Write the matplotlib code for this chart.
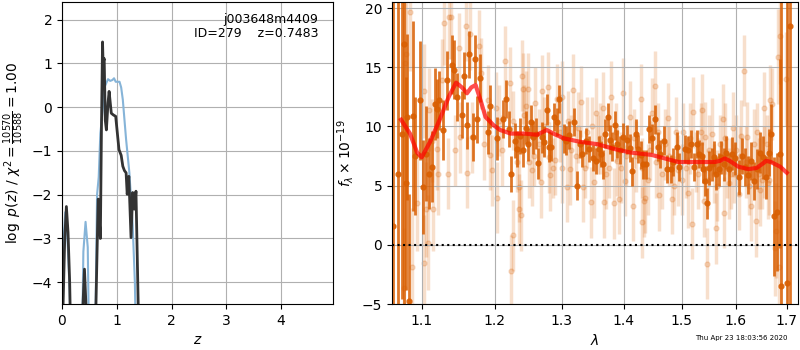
import matplotlib
matplotlib.use('Agg')
import matplotlib.pyplot as plt
import matplotlib.ticker as mticker
import numpy as np

# p(z) panel
z_blue = [0.0, 0.03, 0.06, 0.09, 0.11, 0.14, 0.17, 0.36, 0.39, 0.43, 0.47, 0.50,
          0.60, 0.62, 0.64, 0.67, 0.70, 0.74, 0.78, 0.84, 0.88, 0.92, 0.95, 0.98,
          1.05, 1.08, 1.11, 1.17, 1.23, 1.29, 1.33, 1.36]
lnp_blue = [-4.4, -3.0, -2.4, -2.8, -3.3, -4.2, -6, -6, -3.3, -2.62, -3.2, -6,
            -6, -4.0, -2.0, -1.6, -0.6, -0.1, 0.47, 0.64, 0.60, 0.62, 0.66, 0.58,
            0.58, 0.45, 0.17, -0.74, -1.5, -2.7, -4.0, -6]

z_black = [0.0, 0.02, 0.05, 0.08, 0.11, 0.14, 0.17, 0.35, 0.38, 0.41, 0.44, 0.47,
           0.60, 0.62, 0.66, 0.70, 0.72, 0.74, 0.75, 0.77, 0.79, 0.81, 0.84, 0.86,
           0.90, 0.94, 0.98, 1.04, 1.08, 1.11, 1.14, 1.17, 1.19, 1.22, 1.26, 1.29,
           1.32, 1.35, 1.39, 1.42]
lnp_black = [-6, -4.5, -3.0, -2.27, -2.86, -4.0, -6, -6, -4.6, -3.7, -4.6, -6,
             -6, -4.5, -2.1, -3.0, -0.5, 1.49, 1.0, 1.11, -0.3, -0.52, 0.1, 0.36,
             -0.14, -0.18, -0.21, -0.97, -1.1, -1.35, -1.45, -1.5, -1.99, -1.58,
             -2.98, -1.95, -2.33, -1.92, -4.45, -6]

# spectrum panel, darker points
wave_a = [1.0634, 1.0697, 1.0740, 1.0770, 1.0796, 1.0813, 1.0838, 1.0882, 1.0912,
          1.0978, 1.1021, 1.1056, 1.1092, 1.1132, 1.1176, 1.1198, 1.1233, 1.1279,
          1.1341, 1.1400, 1.1432, 1.1469, 1.1538, 1.1570, 1.1615, 1.1643, 1.1690,
          1.1722, 1.1754, 1.1792, 1.1910, 1.1934, 1.2038, 1.212, 1.217, 1.221,
          1.224, 1.229, 1.233, 1.237, 1.241, 1.245, 1.249, 1.253, 1.256, 1.260,
          1.264, 1.269, 1.273, 1.277, 1.281, 1.284, 1.288, 1.292, 1.295, 1.303,
          1.307, 1.312, 1.319, 1.324, 1.328, 1.332, 1.338, 1.343, 1.349, 1.354,
          1.359, 1.363, 1.365, 1.369, 1.373, 1.377, 1.381, 1.385, 1.389, 1.394,
          1.398, 1.405, 1.410, 1.414, 1.420, 1.424, 1.428, 1.433, 1.438, 1.442,
          1.447, 1.453, 1.458, 1.462, 1.468, 1.474, 1.480, 1.485, 1.491, 1.495,
          1.505, 1.511, 1.517, 1.522, 1.527, 1.532, 1.536, 1.538, 1.542, 1.546,
          1.550, 1.555, 1.559, 1.563, 1.568, 1.572, 1.577, 1.582, 1.587, 1.592,
          1.598, 1.606, 1.611, 1.617, 1.624, 1.630, 1.635, 1.641, 1.647, 1.652,
          1.659, 1.665, 1.668, 1.674, 1.680, 1.686, 1.689, 1.701, 1.706]
flux_a = [1.6, 6.0, 9.4, 17.0, 5.2, 10.8, -4.7, 10.9, 7.5,
          12.2, 4.9, 7.7, 6.0, 6.6, 11.9, 11.5, 12.2, 9.7,
          13.9, 15.2, 14.8, 12.5, 11.0, 14.3, 10.1, 16.1, 9.1,
          15.7, 10.6, 14.1, 9.5, 11.7, 9.0, 10.6, 12.3, 9.8,
          6.0, 8.8, 8.1, 9.2, 8.0, 9.9, 8.5, 10.4, 9.1, 9.4,
          6.9, 9.1, 8.7, 11.4, 8.3, 8.3, 10.8, 10.4, 12.3, 9.0,
          8.8, 9.3, 10.4, 5.0, 8.5, 7.7, 8.8, 8.1, 7.3, 7.1,
          8.1, 7.7, 6.8, 9.4, 10.8, 8.9, 8.3, 10.1, 8.5, 8.0,
          9.1, 8.9, 8.2, 6.2, 9.4, 8.1, 7.6, 6.8, 6.8, 9.8,
          9.0, 10.6, 8.3, 7.7, 8.8, 6.4, 6.4, 7.0, 8.3, 6.6,
          8.1, 8.0, 8.5, 6.6, 8.5, 7.7, 7.5, 6.4, 5.4, 3.5,
          6.5, 6.8, 7.4, 6.0, 6.4, 7.4, 6.8, 7.8, 6.4, 7.7,
          7.3, 5.7, 7.5, 6.6, 5.9, 7.1, 5.4, 6.4, 7.8, 7.4,
          5.7, 7.8, 9.4, 2.4, 2.8, 7.7, -3.5, -3.2, 18.5]
err_a = [30, 30, 14, 22, 9, 7, 9, 8, 5,
         5, 4, 4, 3, 3, 3, 2.5, 2.5, 2.5,
         2.5, 2.5, 2.5, 2, 2, 2, 2, 2, 2,
         2, 2, 2, 1.8, 1.8, 1.8, 1.6, 1.6, 1.5,
         1.5, 1.5, 1.5, 1.5, 1.4, 1.4, 1.4, 1.4, 1.4, 1.3,
         1.3, 1.3, 1.3, 1.3, 1.3, 1.2, 1.2, 1.2, 1.2, 1.2,
         1.2, 1.2, 1.2, 1.2, 1.2, 1.1, 1.1, 1.1, 1.1, 1.1,
         1.1, 1.1, 1.2, 1.2, 1.2, 1.2, 1.2, 1.2, 1.2, 1.2,
         1.2, 1.2, 1.2, 1.2, 1.2, 1.2, 1.2, 1.2, 1.2, 1.2,
         1.2, 1.2, 1.2, 1.2, 1.2, 1.2, 1.2, 1.2, 1.2, 1.2,
         1.2, 1.2, 1.2, 1.2, 1.2, 1.2, 1.2, 1.2, 1.3, 1.3,
         1.4, 1.4, 1.4, 1.4, 1.4, 1.4, 1.4, 1.4, 1.4, 1.4,
         1.4, 1.5, 1.5, 1.6, 1.6, 1.6, 1.6, 1.7, 1.7, 1.8,
         1.8, 2.0, 2.5, 5, 5, 8, 25, 25, 25]

# spectrum panel, faint points
wave_b = [1.0846, 1.080, 1.0785, 1.087, 1.077, 1.094, 1.103, 1.106, 1.108, 1.115,
          1.1035, 1.109, 1.114, 1.120, 1.121, 1.127, 1.130, 1.136, 1.135, 1.139,
          1.144, 1.150, 1.152, 1.159, 1.161, 1.165, 1.168, 1.178, 1.180, 1.185,
          1.190, 1.194, 1.196, 1.2025, 1.203, 1.206, 1.215, 1.223, 1.227, 1.235,
          1.238, 1.222, 1.236, 1.240, 1.241, 1.248, 1.245, 1.255, 1.259, 1.268,
          1.270, 1.279, 1.282, 1.292, 1.301, 1.308, 1.317, 1.313, 1.330, 1.333,
          1.346, 1.351, 1.354, 1.367, 1.366, 1.326, 1.280, 1.378, 1.383, 1.392,
          1.398, 1.401, 1.415, 1.428, 1.431, 1.434, 1.436, 1.453, 1.460, 1.482,
          1.447, 1.476, 1.512, 1.518, 1.521, 1.537, 1.543, 1.545, 1.540, 1.389,
          1.411, 1.494, 1.555, 1.563, 1.575, 1.577, 1.595, 1.615, 1.610, 1.622,
          1.629, 1.638, 1.655, 1.667, 1.671, 1.682, 1.687, 1.698, 1.684, 1.679,
          1.677, 1.662, 1.646, 1.586, 1.605, 1.210, 1.250, 1.265, 1.290, 1.300,
          1.315, 1.340, 1.360, 1.370, 1.395, 1.420, 1.440, 1.455, 1.465, 1.470,
          1.490, 1.500, 1.515, 1.530, 1.550, 1.565, 1.580, 1.590, 1.600, 1.620,
          1.635, 1.645, 1.655, 1.665, 1.226, 1.232, 1.243, 1.257, 1.272, 1.286,
          1.297, 1.310, 1.322, 1.336, 1.347, 1.357, 1.375, 1.387, 1.403, 1.417,
          1.430, 1.445, 1.458, 1.478, 1.487, 1.503, 1.508, 1.525, 1.535, 1.548,
          1.558, 1.570, 1.584, 1.597, 1.608, 1.626, 1.640, 1.650, 1.660]
flux_b = [19.7, 16.1, 15.4, -1.9, -3.6, 3.5, -1.5, 3.0, 0.2, 3.0,
          13.0, 11.4, 8.8, 8.1, 6.0, 13.9, 18.7, 19.2, 6.0, 19.2,
          8.0, 16.6, 9.1, 18.5, 6.1, 17.8, 9.1, 16.8, 14.5, 8.5,
          12.2, 7.6, 6.3, 11.6, 4.0, 10.5, 15.5, -2.2, 0.8, 3.0,
          2.5, 13.7, 4.9, 14.3, 13.2, 13.2, 11.7, 6.3, 12.0, 5.3,
          13.0, 13.3, 5.9, 12.3, 12.5, 4.9, 13.1, 6.4, 12.1, 4.9,
          3.6, 5.3, 11.1, 3.6, 11.6, 9.9, 7.4, 12.5, 3.5, 3.9,
          12.8, 5.4, 3.3, 12.3, 1.9, 3.7, 4.0, 13.4, 4.2, 3.9,
          11.1, 10.7, 4.4, 1.8, 11.2, 11.4, 9.1, -1.6, 3.7, 7.1,
          10.8, 6.3, 9.4, 1.4, 10.6, 2.7, 9.9, 14.7, 9.2, 9.1,
          3.3, 2.0, 11.6, 12.2, 11.9, 15.9, 17.6, 14.0, -1.9, 1.2,
          -0.3, 5.2, 4.6, 5.2, 4.3, 8.0, 7.0, 8.5, 7.2, 6.5,
          8.0, 9.5, 9.0, 6.0, 6.5, 7.5, 5.5, 7.0, 6.0, 8.5,
          9.5, 5.5, 9.0, 6.0, 8.0, 5.0, 9.0, 6.0, 8.0, 7.0,
          8.5, 6.0, 7.0, 5.5, 10.5, 7.0, 11.0, 7.5, 10.0, 6.5,
          9.5, 10.5, 7.5, 6.5, 10.0, 8.5, 6.5, 9.5, 7.5, 9.0,
          6.5, 8.0, 9.5, 7.5, 5.0, 9.5, 6.5, 7.0, 9.5, 5.5,
          6.0, 8.5, 6.5, 6.0, 7.5, 5.0, 9.5, 5.5, 8.5]
err_b = [5, 5, 5, 5, 5, 4, 4, 4, 4, 3.5,
         4, 3.5, 3.5, 3.5, 3.5, 3.5, 3.5, 3.5, 3, 3.5,
         3, 3, 3, 3, 3, 3, 3, 3, 3, 3,
         3, 3, 3, 3, 3, 3, 3, 3, 3, 3,
         3, 3, 3, 3, 3, 3, 3, 3, 3, 3,
         3, 3, 3, 3, 3, 3, 3, 3, 3, 3,
         3, 3, 3, 3, 3, 3, 3, 3, 3, 3,
         3, 3, 3, 3, 3, 3, 3, 3, 3, 3,
         3, 3, 3, 3, 3, 3, 3, 3, 3, 3,
         3, 3, 3, 3, 3, 3, 3, 3, 3, 3,
         3, 3, 3, 3, 3, 4, 4, 4, 4, 4,
         4, 3, 3, 3, 3, 3, 3, 3, 3, 3,
         3, 3, 3, 3, 3, 3, 3, 3, 3, 3,
         3, 3, 3, 3, 3, 3, 3, 3, 3, 3,
         3, 3, 3, 3, 2.5, 2.5, 2.5, 2.5, 2.5, 2.5,
         2.5, 2.5, 2.5, 2.5, 2.5, 2.5, 2.5, 2.5, 2.5, 2.5,
         2.5, 2.5, 2.5, 2.5, 2.5, 2.5, 2.5, 2.5, 2.5, 2.5,
         2.5, 2.5, 2.5, 2.5, 2.5, 2.5, 2.5, 2.5, 2.5]

# best-fit model
wave_m = [1.0732, 1.0847, 1.094, 1.100, 1.111, 1.124, 1.136, 1.146, 1.154, 1.161,
          1.167, 1.173, 1.180, 1.187, 1.1985, 1.208, 1.223, 1.243, 1.262, 1.277,
          1.287, 1.303, 1.329, 1.357, 1.384, 1.411, 1.447, 1.470, 1.494, 1.530,
          1.560, 1.570, 1.579, 1.588, 1.605, 1.624, 1.640, 1.650, 1.659, 1.668,
          1.687, 1.700]
flux_m = [10.57, 9.4, 7.8, 7.4, 8.7, 10.6, 12.5, 13.7, 13.3, 12.8,
          13.3, 13.5, 12.2, 10.8, 10.1, 9.7, 9.4, 9.4, 9.3, 9.7,
          9.4, 9.0, 8.7, 8.5, 8.1, 7.8, 7.6, 7.3, 7.0, 7.0,
          7.0, 7.1, 7.3, 7.1, 6.6, 6.4, 6.5, 6.8, 7.1, 7.0,
          6.6, 6.1]

wave_ticks = [1.1, 1.2, 1.3, 1.4, 1.5, 1.6, 1.7]

fig = plt.figure(figsize=(8, 3.5), dpi=100)
ax1 = fig.add_axes([0.0775, 0.131, 0.339, 0.863])
ax2 = fig.add_axes([0.49, 0.131, 0.5075, 0.863])

ax1.plot(z_blue, lnp_blue, color='#86b4d8', lw=1.5)
ax1.plot(z_black, lnp_black, color='#333333', lw=2)
ax1.set_xlim(0, 4.95)
ax1.set_ylim(-4.5, 2.4)
ax1.set_xticks([0, 1, 2, 3, 4])
ax1.set_yticks([-4, -3, -2, -1, 0, 1, 2])
ax1.grid(True)
ax1.set_xlabel('$z$')
ax1.set_ylabel(r'$\log\ p(z)$ / $\chi^2=\frac{10570}{10588}=1.00$')
ax1.text(0.945, 0.965, 'j003648m4409\nID=279    z=0.7483', transform=ax1.transAxes,
         ha='right', va='top', fontsize=9, linespacing=1.1)

col = '#d95f02'
ax2.errorbar(wave_b, flux_b, yerr=err_b, fmt='o', color=col, alpha=0.2,
             ms=3.5, elinewidth=2.5, capsize=0, zorder=1)
ax2.errorbar(wave_a, flux_a, yerr=err_a, fmt='o', color=col, alpha=0.85,
             ms=3.5, elinewidth=2, capsize=0, zorder=2)
ax2.plot(wave_m, flux_m, color='red', lw=3, alpha=0.7, zorder=4)
ax2.axhline(0, color='black', ls=':', lw=1.5, zorder=3)
ax2.set_xscale('log')
ax2.set_xlim(1.0617, 1.723)
ax2.set_ylim(-5, 20.5)
ax2.xaxis.set_major_locator(mticker.FixedLocator(wave_ticks))
ax2.xaxis.set_major_formatter(mticker.FixedFormatter(['%.1f' % w for w in wave_ticks]))
ax2.xaxis.set_minor_locator(mticker.NullLocator())
ax2.set_yticks([-5, 0, 5, 10, 15, 20])
ax2.grid(True)
ax2.set_xlabel(r'$\lambda$')
ax2.set_ylabel(r'$f_\lambda\times10^{-19}$')

fig.text(0.985, 0.025, 'Thu Apr 23 18:03:56 2020', ha='right', va='bottom', fontsize=5)

fig.savefig('out.png', dpi=100)
